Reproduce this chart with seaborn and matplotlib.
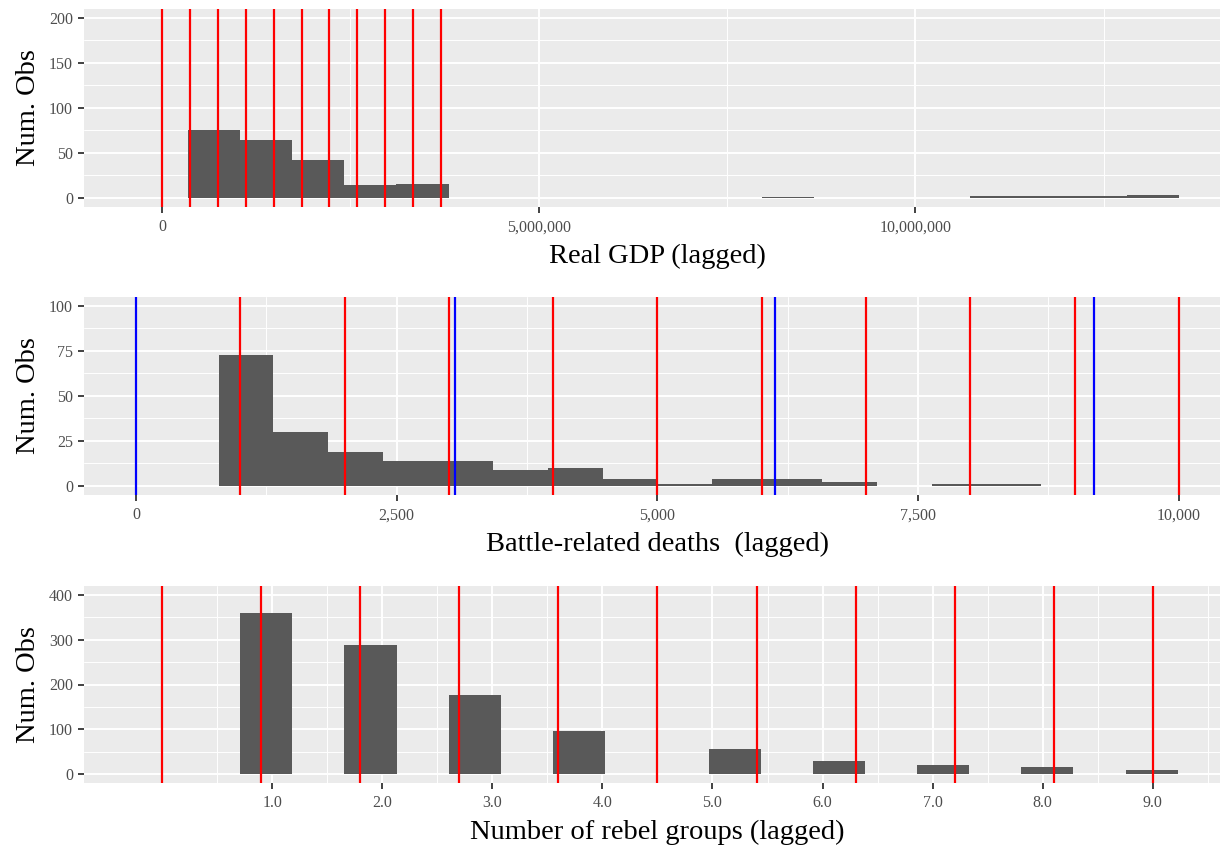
import matplotlib
matplotlib.use("Agg")
import numpy as np
import pandas as pd
import seaborn as sns
import matplotlib.pyplot as plt
from matplotlib.ticker import FixedLocator, FuncFormatter

# --- values ---
# Real GDP (lagged): histogram bin edges and counts
gdp_edges = [341000, 1033500, 1726000, 2418500, 3111000, 3803500, 4496000,
             5188500, 5881000, 6573500, 7266000, 7958500, 8651000, 9343500,
             10036000, 10728500, 11421000, 12113500, 12806000, 13498500]
gdp_counts = [76, 64, 42, 14, 15, 0, 0, 0, 0, 0, 0, 1, 0, 0, 0, 2, 2, 2, 3]
gdp_red = [0, 370400, 740800, 1111200, 1481600, 1852000, 2222400,
           2592800, 2963200, 3333600, 3704000]
gdp_ticks = [0, 5000000, 10000000]

# Battle-related deaths (lagged)
death_edges = [792.5, 1318.4, 1844.3, 2370.2, 2896.1, 3422.0, 3947.9, 4473.8,
               4999.7, 5525.6, 6051.5, 6577.4, 7103.3, 7629.2, 8155.1, 8681.0]
death_counts = [73, 30, 19, 14, 14, 9, 10, 4, 1, 4, 4, 2, 0, 1, 1]
death_red = [1000, 2000, 3000, 4000, 5000, 6000, 7000, 8000, 9000, 10000]
death_blue = [0, 3063, 6127, 9190]
death_ticks = [0, 2500, 5000, 7500, 10000]

# Number of rebel groups (lagged)
rebel_edges = [0.711, 1.184, 1.657, 2.130, 2.603, 3.076, 3.549, 4.022, 4.495,
               4.968, 5.441, 5.914, 6.387, 6.860, 7.333, 7.806, 8.279, 8.752, 9.225]
rebel_counts = [360, 0, 288, 0, 177, 0, 96, 0, 0, 55, 0, 30, 0, 21, 0, 16, 0, 10]
rebel_red = [0.0, 0.9, 1.8, 2.7, 3.6, 4.5, 5.4, 6.3, 7.2, 8.1, 9.0]
rebel_ticks = [1, 2, 3, 4, 5, 6, 7, 8, 9]

sns.set_theme(style="darkgrid", rc={
    "axes.facecolor": "#EBEBEB",
    "grid.color": "white",
    "axes.edgecolor": "none",
})
plt.rcParams["font.family"] = ["Liberation Serif", "DejaVu Serif"]

fig = plt.figure(figsize=(12.2, 8.46), dpi=100)
W, H = 1220.0, 846.0
left_px, right_px = 83.8, 1231.0


def make_ax(top_px, bottom_px):
    return fig.add_axes([left_px / W, 1 - bottom_px / H,
                         (right_px - left_px) / W, (bottom_px - top_px) / H])


def draw(ax, edges, counts, red, blue, xlim, ylim, xmaj, xmin, ymaj, ymin, fmt, xlabel):
    e = np.array(edges, dtype=float)
    df = pd.DataFrame({"x": (e[:-1] + e[1:]) / 2, "n": counts})
    sns.histplot(data=df, x="x", weights="n", bins=list(edges), color="#595959",
                 alpha=1, linewidth=0, ax=ax, zorder=2)
    for v in red:
        ax.axvline(v, color="#FF0000", lw=1.6, zorder=3)
    for v in blue:
        ax.axvline(v, color="#0000FF", lw=1.6, zorder=3)
    ax.set_xlim(*xlim)
    ax.set_ylim(*ylim)
    ax.xaxis.set_major_locator(FixedLocator(xmaj))
    ax.xaxis.set_minor_locator(FixedLocator(xmin))
    ax.yaxis.set_major_locator(FixedLocator(ymaj))
    ax.yaxis.set_minor_locator(FixedLocator(ymin))
    ax.xaxis.set_major_formatter(FuncFormatter(fmt))
    ax.grid(which="major", color="white", lw=1.4)
    ax.grid(which="minor", color="white", lw=0.7)
    ax.set_axisbelow(True)
    ax.tick_params(which="major", length=4.3, width=1.3, color="#333333",
                   labelsize=11.5, labelcolor="#4D4D4D", pad=4.5,
                   bottom=True, left=True)
    ax.tick_params(axis="y", which="major", pad=3.5)
    ax.tick_params(which="minor", length=0)
    ax.set_xlabel(xlabel, fontsize=20.5, color="black", labelpad=6)
    ax.set_ylabel("Num. Obs", fontsize=20.5, color="black", labelpad=6)
    for s in ax.spines.values():
        s.set_visible(False)


ax1 = make_ax(9, 207)
draw(ax1, gdp_edges, gdp_counts, gdp_red, [], (-1039000, 14190000), (-10, 210),
     gdp_ticks, [2500000, 7500000, 12500000], [0, 50, 100, 150, 200],
     [25, 75, 125, 175], lambda v, p: f"{v:,.0f}", "Real GDP (lagged)")

ax2 = make_ax(297, 495)
draw(ax2, death_edges, death_counts, death_red, death_blue, (-500, 10500), (-5, 105),
     death_ticks, [1250, 3750, 6250, 8750], [0, 25, 50, 75, 100],
     [12.5, 37.5, 62.5, 87.5], lambda v, p: f"{v:,.0f}", "Battle-related deaths  (lagged)")

ax3 = make_ax(586, 783)
draw(ax3, rebel_edges, rebel_counts, rebel_red, [], (-0.711, 9.71), (-20, 420),
     rebel_ticks, [0.5, 1.5, 2.5, 3.5, 4.5, 5.5, 6.5, 7.5, 8.5, 9.5],
     [0, 100, 200, 300, 400], [50, 150, 250, 350],
     lambda v, p: f"{v:.1f}", "Number of rebel groups (lagged)")

fig.savefig("out.png", dpi=100)
